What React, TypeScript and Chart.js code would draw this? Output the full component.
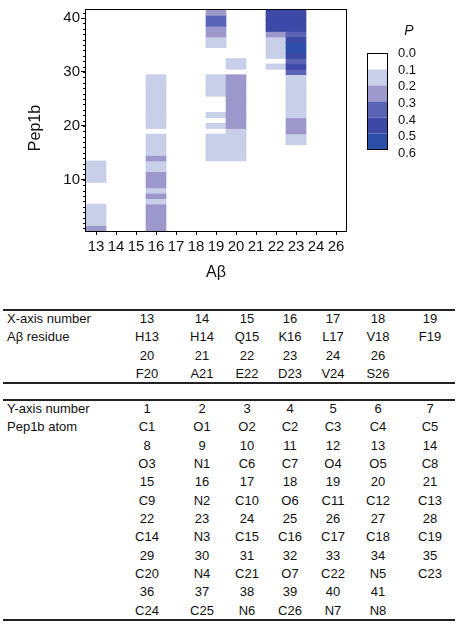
import React, { useEffect, useRef } from "react";
import { Chart, registerables } from "chart.js";

Chart.register(...registerables);

// ---------- data ----------
const xLabels = ["13", "14", "15", "16", "17", "18", "19", "20", "21", "22", "23", "24", "26"];
const bandEdges = [0.0, 0.1, 0.2, 0.3, 0.4, 0.5, 0.6];
const bandColors = ["#ffffff", "#c8cfe9", "#9d98cb", "#5a63b5", "#3e48a6", "#2c50a9"];

// P for Pep1b atoms 1..41 (index 0 = atom 1), one array per Aβ residue column
const colH13 = [0.25, 0.15, 0.15, 0.15, 0.15, 0, 0, 0, 0, 0.15, 0.15, 0.15, 0.15, 0, 0, 0, 0, 0, 0, 0, 0, 0, 0, 0, 0, 0, 0, 0, 0, 0, 0, 0, 0, 0, 0, 0, 0, 0, 0, 0, 0];
const colH14 = [0, 0, 0, 0, 0, 0, 0, 0, 0, 0, 0, 0, 0, 0, 0, 0, 0, 0, 0, 0, 0, 0, 0, 0, 0, 0, 0, 0, 0, 0, 0, 0, 0, 0, 0, 0, 0, 0, 0, 0, 0];
const colQ15 = [0, 0, 0, 0, 0, 0, 0, 0, 0, 0, 0, 0, 0, 0, 0, 0, 0, 0, 0, 0, 0, 0, 0, 0, 0, 0, 0, 0, 0, 0, 0, 0, 0, 0, 0, 0, 0, 0, 0, 0, 0];
const colK16 = [0.25, 0.25, 0.25, 0.25, 0.25, 0.15, 0.25, 0.15, 0.25, 0.25, 0.25, 0.15, 0.15, 0.25, 0.15, 0.15, 0.15, 0.15, 0, 0.15, 0.15, 0.15, 0.15, 0.15, 0.15, 0.15, 0.15, 0.15, 0.15, 0, 0, 0, 0, 0, 0, 0, 0, 0, 0, 0, 0];
const colL17 = [0, 0, 0, 0, 0, 0, 0, 0, 0, 0, 0, 0, 0, 0, 0, 0, 0, 0, 0, 0, 0, 0, 0, 0, 0, 0, 0, 0, 0, 0, 0, 0, 0, 0, 0, 0, 0, 0, 0, 0, 0];
const colV18 = [0, 0, 0, 0, 0, 0, 0, 0, 0, 0, 0, 0, 0, 0, 0, 0, 0, 0, 0, 0, 0, 0, 0, 0, 0, 0, 0, 0, 0, 0, 0, 0, 0, 0, 0, 0, 0, 0, 0, 0, 0];
const colF19 = [0, 0, 0, 0, 0, 0, 0, 0, 0, 0, 0, 0, 0, 0.15, 0.15, 0.15, 0.15, 0.15, 0, 0.15, 0, 0.15, 0, 0, 0, 0.15, 0.15, 0.15, 0.15, 0, 0, 0, 0, 0, 0.15, 0.15, 0.25, 0.25, 0.35, 0.35, 0.25];
const colF20 = [0, 0, 0, 0, 0, 0, 0, 0, 0, 0, 0, 0, 0, 0.15, 0.15, 0.15, 0.15, 0.15, 0.15, 0.25, 0.25, 0.25, 0.25, 0.25, 0.25, 0.25, 0.25, 0.25, 0.25, 0, 0.15, 0.15, 0, 0, 0, 0, 0, 0, 0, 0, 0];
const colA21 = [0, 0, 0, 0, 0, 0, 0, 0, 0, 0, 0, 0, 0, 0, 0, 0, 0, 0, 0, 0, 0, 0, 0, 0, 0, 0, 0, 0, 0, 0, 0, 0, 0, 0, 0, 0, 0, 0, 0, 0, 0];
const colE22 = [0, 0, 0, 0, 0, 0, 0, 0, 0, 0, 0, 0, 0, 0, 0, 0, 0, 0, 0, 0, 0, 0, 0, 0, 0, 0, 0, 0, 0, 0, 0.15, 0, 0.15, 0.15, 0.15, 0.15, 0.25, 0.45, 0.45, 0.45, 0.45];
const colD23 = [0, 0, 0, 0, 0, 0, 0, 0, 0, 0, 0, 0, 0, 0, 0, 0, 0.15, 0.15, 0.25, 0.25, 0.25, 0.15, 0.15, 0.15, 0.15, 0.15, 0.15, 0.15, 0.15, 0.35, 0.45, 0.35, 0.45, 0.55, 0.55, 0.45, 0.35, 0.45, 0.45, 0.45, 0.45];
const colV24 = [0, 0, 0, 0, 0, 0, 0, 0, 0, 0, 0, 0, 0, 0, 0, 0, 0, 0, 0, 0, 0, 0, 0, 0, 0, 0, 0, 0, 0, 0, 0, 0, 0, 0, 0, 0, 0, 0, 0, 0, 0];
const colS26 = [0, 0, 0, 0, 0, 0, 0, 0, 0, 0, 0, 0, 0, 0, 0, 0, 0, 0, 0, 0, 0, 0, 0, 0, 0, 0, 0, 0, 0, 0, 0, 0, 0, 0, 0, 0, 0, 0, 0, 0, 0];

const yTickValues = [10, 20, 30, 40];

// table data
const xAxisNumbers = ["13", "14", "15", "16", "17", "18", "19", "20", "21", "22", "23", "24", "26"];
const aBetaResidues = ["H13", "H14", "Q15", "K16", "L17", "V18", "F19", "F20", "A21", "E22", "D23", "V24", "S26"];
const yAxisNumbers = ["1", "2", "3", "4", "5", "6", "7", "8", "9", "10", "11", "12", "13", "14", "15", "16", "17", "18", "19", "20", "21", "22", "23", "24", "25", "26", "27", "28", "29", "30", "31", "32", "33", "34", "35", "36", "37", "38", "39", "40", "41"];
const pep1bAtoms = ["C1", "O1", "O2", "C2", "C3", "C4", "C5", "O3", "N1", "C6", "C7", "O4", "O5", "C8", "C9", "N2", "C10", "O6", "C11", "C12", "C13", "C14", "N3", "C15", "C16", "C17", "C18", "C19", "C20", "N4", "C21", "O7", "C22", "N5", "C23", "C24", "C25", "N6", "C26", "N7", "N8"];

// ---------- layout ----------
const FONT = '"Liberation Sans", Arial, Helvetica, sans-serif';
const W = 459;
const CH = 290;
const TEXT = "#111";
const colCenters = [147, 202, 247, 290, 333, 378, 430];

const columns = [colH13, colH14, colQ15, colK16, colL17, colV18, colF19, colF20, colA21, colE22, colD23, colV24, colS26];

function colorFor(p: number): string {
  for (let i = bandEdges.length - 2; i >= 0; i--) {
    if (p >= bandEdges[i]) return bandColors[i];
  }
  return bandColors[0];
}

const framePlugin = {
  id: "frame",
  afterDraw(chart: any) {
    const { ctx, chartArea: a, scales } = chart;
    const ys = scales.y;
    ctx.save();
    // box
    ctx.strokeStyle = "#000";
    ctx.lineWidth = 1;
    ctx.strokeRect(a.left - 0.5, a.top - 0.5, a.right - a.left + 1, a.bottom - a.top + 1);
    // minor ticks on y
    ctx.beginPath();
    for (let v = 1; v <= 41; v++) {
      const y = Math.round(ys.getPixelForValue(v)) + 0.5;
      ctx.moveTo(a.left - 3, y);
      ctx.lineTo(a.left, y);
    }
    ctx.stroke();
    // axis titles
    ctx.fillStyle = TEXT;
    ctx.font = `16px ${FONT}`;
    ctx.textAlign = "center";
    ctx.textBaseline = "middle";
    ctx.fillText("Aβ", (a.left + a.right) / 2, 273);
    ctx.save();
    ctx.translate(36, 128);
    ctx.rotate(-Math.PI / 2);
    ctx.fillText("Pep1b", 0, 0);
    ctx.restore();
    // colour legend
    const lx = 367, ly = 53.5, bw = 20, bh = 16;
    for (let i = 0; i < bandColors.length; i++) {
      ctx.fillStyle = bandColors[i];
      ctx.fillRect(lx, ly + i * bh, bw, bh);
    }
    ctx.strokeStyle = "#000";
    ctx.strokeRect(lx + 0.5, ly, bw, bh * bandColors.length);
    ctx.fillStyle = TEXT;
    ctx.font = `13px ${FONT}`;
    ctx.textAlign = "left";
    for (let i = 0; i < bandEdges.length; i++) {
      ctx.fillText(bandEdges[i].toFixed(1), 398, 53.5 + i * 16.67);
    }
    ctx.font = `italic 14px ${FONT}`;
    ctx.textAlign = "center";
    ctx.fillText("P", 409, 31);
    ctx.restore();
  },
};

function HeatChart() {
  const ref = useRef<HTMLCanvasElement | null>(null);
  useEffect(() => {
    if (!ref.current) return;
    Chart.defaults.font.family = FONT;
    const cells: any[] = [];
    columns.forEach((col, ci) => {
      col.forEach((p, ri) => {
        if (p >= bandEdges[1]) cells.push({ x: xLabels[ci], y: [ri + 0.5, ri + 1.5], p });
      });
    });
    const chart = new Chart(ref.current, {
      type: "bar",
      data: {
        labels: xLabels,
        datasets: [
          {
            data: cells,
            backgroundColor: (c: any) => colorFor(c.raw ? c.raw.p : 0),
            borderWidth: 0,
            categoryPercentage: 1,
            barPercentage: 1,
          } as any,
        ],
      },
      options: {
        responsive: false,
        animation: false,
        devicePixelRatio: 1,
        layout: { padding: { top: 4, right: 113, left: 0, bottom: 0 } },
        plugins: { legend: { display: false }, tooltip: { enabled: false } },
        scales: {
          x: {
            type: "category",
            offset: true,
            grid: { offset: false, drawOnChartArea: false, tickLength: 4, color: "#000" },
            border: { display: false },
            ticks: { color: TEXT, font: { size: 15, family: FONT }, padding: 3, maxRotation: 0, autoSkip: false },
            afterFit: (s: any) => {
              s.height = 59;
            },
          },
          y: {
            type: "linear",
            min: 0.5,
            max: 41.5,
            afterBuildTicks: (s: any) => {
              s.ticks = yTickValues.map((v) => ({ value: v }));
            },
            ticks: { color: TEXT, font: { size: 15, family: FONT }, padding: 1 },
            grid: { drawOnChartArea: false, tickLength: 5, color: "#000" },
            border: { display: false },
            afterFit: (s: any) => {
              s.width = 86;
            },
          },
        },
      } as any,
      plugins: [framePlugin],
    });
    return () => chart.destroy();
  }, []);
  return <canvas ref={ref} width={W} height={CH} style={{ position: "absolute", left: 0, top: 0, width: W, height: CH }} />;
}

function chunk<T>(arr: T[], n: number): T[][] {
  const out: T[][] = [];
  for (let i = 0; i < arr.length; i += n) out.push(arr.slice(i, i + n));
  return out;
}

function Rule({ top }: { top: number }) {
  return <div style={{ position: "absolute", left: 3, width: 452, top, height: 2, background: "#222" }} />;
}

function TextRow({ y, label, values }: { y: number; label?: string; values: string[] }) {
  const base: React.CSSProperties = { position: "absolute", top: y - 9, height: 18, lineHeight: "18px", fontSize: 13, color: TEXT, whiteSpace: "nowrap" };
  return (
    <>
      {label ? <div style={{ ...base, left: 7 }}>{label}</div> : null}
      {values.map((v, i) => (
        <div key={i} style={{ ...base, left: colCenters[i] - 30, width: 60, textAlign: "center" }}>
          {v}
        </div>
      ))}
    </>
  );
}

function Table({ top, numLabel, nameLabel, nums, names }: { top: number; numLabel: string; nameLabel: string; nums: string[]; names: string[] }) {
  const numRows = chunk(nums, 7);
  const nameRows = chunk(names, 7);
  const pitch = 18.33;
  const rows: React.ReactNode[] = [];
  let k = 0;
  numRows.forEach((nr, i) => {
    rows.push(<TextRow key={"n" + i} y={top + 10 + k * pitch} label={i === 0 ? numLabel : undefined} values={nr} />);
    k++;
    rows.push(<TextRow key={"m" + i} y={top + 10 + k * pitch} label={i === 0 ? nameLabel : undefined} values={nameRows[i]} />);
    k++;
  });
  const bottom = top + 10 + (k - 1) * pitch + 8;
  return (
    <>
      <Rule top={top} />
      {rows}
      <Rule top={bottom} />
    </>
  );
}

export default function App() {
  return (
    <div style={{ position: "absolute", left: 0, top: 0, width: W, height: 628, background: "#fff", fontFamily: FONT, overflow: "hidden" }}>
      <HeatChart />
      <Table top={309} numLabel="X-axis number" nameLabel="Aβ residue" nums={xAxisNumbers} names={aBetaResidues} />
      <Table top={399} numLabel="Y-axis number" nameLabel="Pep1b atom" nums={yAxisNumbers} names={pep1bAtoms} />
    </div>
  );
}
